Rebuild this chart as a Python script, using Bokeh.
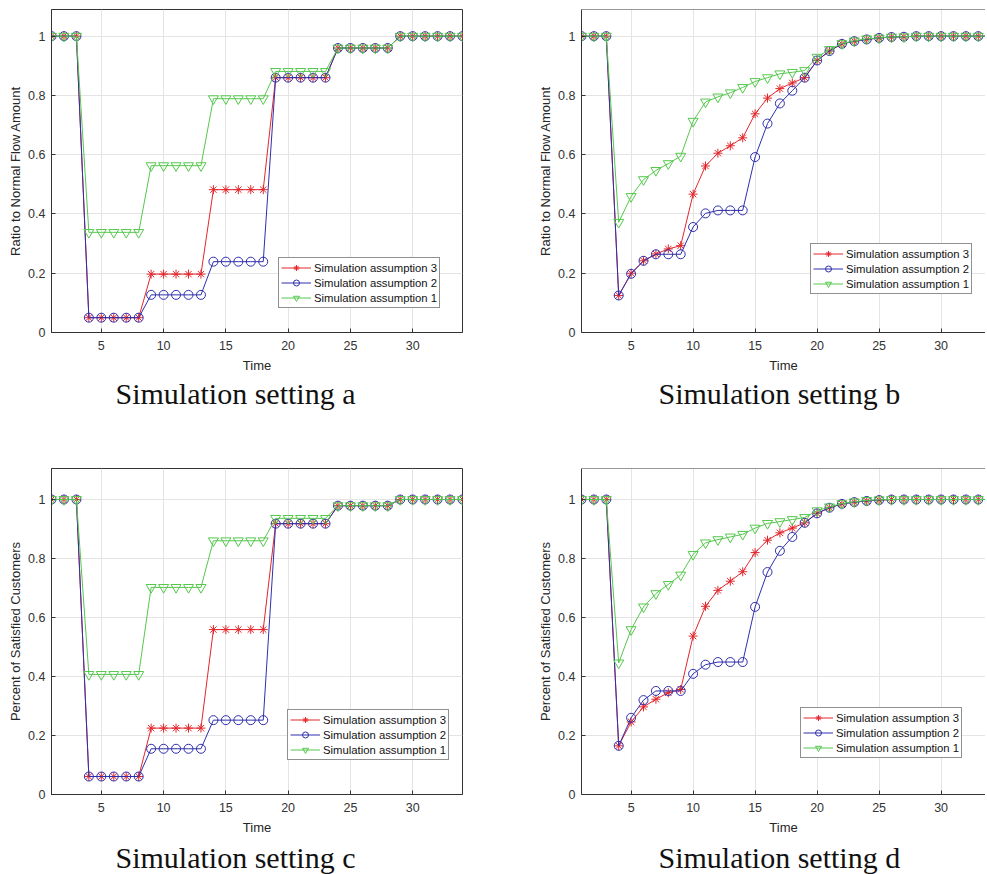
from bokeh.plotting import figure
from bokeh.models import (Range1d, FixedTicker, NumeralTickFormatter,
                          Legend, LegendItem, Title, Span)
from bokeh.layouts import row, column
from bokeh.embed import file_html
from bokeh.resources import INLINE

# ---------------- data ----------------
time = [1, 2, 3, 4, 5, 6, 7, 8, 9, 10, 11, 12, 13, 14, 15, 16, 17,
        18, 19, 20, 21, 22, 23, 24, 25, 26, 27, 28, 29, 30, 31, 32, 33, 34]

series_labels = ["Simulation assumption 3", "Simulation assumption 2", "Simulation assumption 1"]

# Simulation setting a  (Ratio to Normal Flow Amount)
a_s3 = [1, 1, 1, 0.05, 0.05, 0.05, 0.05, 0.05, 0.197, 0.197, 0.197, 0.197, 0.197,
        0.482, 0.482, 0.482, 0.482, 0.482, 0.86, 0.86, 0.86, 0.86, 0.86,
        0.96, 0.96, 0.96, 0.96, 0.96, 1, 1, 1, 1, 1, 1]
a_s2 = [1, 1, 1, 0.05, 0.05, 0.05, 0.05, 0.05, 0.127, 0.127, 0.127, 0.127, 0.127,
        0.239, 0.239, 0.239, 0.239, 0.239, 0.86, 0.86, 0.86, 0.86, 0.86,
        0.96, 0.96, 0.96, 0.96, 0.96, 1, 1, 1, 1, 1, 1]
a_s1 = [1, 1, 1, 0.338, 0.338, 0.338, 0.338, 0.338, 0.563, 0.563, 0.563, 0.563, 0.563,
        0.789, 0.789, 0.789, 0.789, 0.789, 0.881, 0.881, 0.881, 0.881, 0.881,
        0.96, 0.96, 0.96, 0.96, 0.96, 1, 1, 1, 1, 1, 1]

# Simulation setting b  (Ratio to Normal Flow Amount)
b_s3 = [1, 1, 1, 0.125, 0.200, 0.242, 0.265, 0.282, 0.293, 0.467, 0.562, 0.605, 0.630,
        0.657, 0.738, 0.791, 0.823, 0.842, 0.860, 0.918, 0.950, 0.974, 0.983,
        0.989, 0.994, 0.997, 0.998, 1, 1, 1, 1, 1, 1, 1]
b_s2 = [1, 1, 1, 0.125, 0.198, 0.242, 0.264, 0.264, 0.264, 0.356, 0.402, 0.412, 0.412,
        0.412, 0.592, 0.705, 0.773, 0.816, 0.860, 0.918, 0.950, 0.974, 0.983,
        0.989, 0.994, 0.997, 0.998, 1, 1, 1, 1, 1, 1, 1]
b_s1 = [1, 1, 1, 0.372, 0.459, 0.516, 0.547, 0.570, 0.595, 0.713, 0.778, 0.795, 0.809,
        0.827, 0.847, 0.860, 0.873, 0.878, 0.884, 0.929, 0.955, 0.975, 0.984,
        0.991, 0.994, 0.997, 0.998, 1, 1, 1, 1, 1, 1, 1]

# Simulation setting c  (Percent of Satisfied Customers)
c_s3 = [1, 1, 1, 0.061, 0.061, 0.061, 0.061, 0.061, 0.225, 0.225, 0.225, 0.225, 0.225,
        0.559, 0.559, 0.559, 0.559, 0.559, 0.918, 0.918, 0.918, 0.918, 0.918,
        0.979, 0.979, 0.979, 0.979, 0.979, 1, 1, 1, 1, 1, 1]
c_s2 = [1, 1, 1, 0.061, 0.061, 0.061, 0.061, 0.061, 0.155, 0.155, 0.155, 0.155, 0.155,
        0.252, 0.252, 0.252, 0.252, 0.252, 0.918, 0.918, 0.918, 0.918, 0.918,
        0.979, 0.979, 0.979, 0.979, 0.979, 1, 1, 1, 1, 1, 1]
c_s1 = [1, 1, 1, 0.407, 0.407, 0.407, 0.407, 0.407, 0.702, 0.702, 0.702, 0.702, 0.702,
        0.860, 0.860, 0.860, 0.860, 0.860, 0.936, 0.936, 0.936, 0.936, 0.936,
        0.979, 0.979, 0.979, 0.979, 0.979, 1, 1, 1, 1, 1, 1]

# Simulation setting d  (Percent of Satisfied Customers)
d_s3 = [1, 1, 1, 0.165, 0.246, 0.297, 0.323, 0.345, 0.356, 0.537, 0.638, 0.692, 0.723,
        0.755, 0.820, 0.862, 0.887, 0.903, 0.921, 0.953, 0.972, 0.985, 0.991,
        0.995, 0.998, 1, 1, 1, 1, 1, 1, 1, 1, 1]
d_s2 = [1, 1, 1, 0.165, 0.260, 0.320, 0.351, 0.351, 0.351, 0.409, 0.440, 0.449, 0.449,
        0.449, 0.636, 0.754, 0.826, 0.873, 0.921, 0.953, 0.972, 0.985, 0.991,
        0.995, 0.998, 1, 1, 1, 1, 1, 1, 1, 1, 1]
d_s1 = [1, 1, 1, 0.446, 0.559, 0.636, 0.681, 0.712, 0.744, 0.814, 0.853, 0.864, 0.873,
        0.882, 0.903, 0.919, 0.925, 0.932, 0.939, 0.962, 0.975, 0.986, 0.992,
        0.997, 0.999, 1, 1, 1, 1, 1, 1, 1, 1, 1]

x_ticks = [5, 10, 15, 20, 25, 30]
y_ticks = [0, 0.2, 0.4, 0.6, 0.8, 1]

# ---------------- style ----------------
COLORS = ["#e3262b", "#2f2fae", "#55c84c"]
MARKERS = ["asterisk", "circle", "inverted_triangle"]
MSIZES = [9, 9, 10]
AXIS_COL = "#333333"
SANS = "Liberation Sans"
SERIF = "Liberation Serif"


def style_axis(ax):
    ax.axis_line_color = AXIS_COL
    ax.axis_line_width = 1
    ax.major_tick_in = 4
    ax.major_tick_out = 0
    ax.minor_tick_in = 0
    ax.minor_tick_out = 0
    ax.major_tick_line_color = AXIS_COL
    ax.major_label_text_color = AXIS_COL
    ax.major_label_text_font = SANS
    ax.major_label_text_font_size = "12.5px"


def make_panel(ys, ylabel, title, left_side, top_row, leg_loc, title_offset):
    if left_side:
        mb_left, fw, mb_right = 51, 411, 28
        x_end = 34
    else:
        mb_left, fw, mb_right = 91, 404, 0
        x_end = 33.58
    if top_row:
        mb_top, fh, mb_bottom = 9, 323, 128
        y_end = 1.09
        t_stand = -2
    else:
        mb_top, fh, mb_bottom = 8, 326, 70
        y_end = 1.105
        t_stand = 2

    p = figure(frame_width=fw, frame_height=fh,
               min_border_left=mb_left, min_border_right=mb_right,
               min_border_top=mb_top, min_border_bottom=mb_bottom,
               x_range=Range1d(1, x_end), y_range=Range1d(0, y_end),
               output_backend="svg", toolbar_location=None,
               background_fill_color="white", border_fill_color="white")
    if left_side:
        p.outline_line_color = AXIS_COL
        p.outline_line_width = 1
    else:
        p.outline_line_color = None
        p.add_layout(Span(location=y_end, dimension="width",
                          line_color=AXIS_COL, line_width=1))

    # grid
    p.xgrid.ticker = FixedTicker(ticks=x_ticks)
    p.ygrid.ticker = FixedTicker(ticks=y_ticks)
    for g in (p.xgrid[0], p.ygrid[0]):
        g.grid_line_color = "#e4e4e4"
        g.grid_line_width = 1

    # main axes
    xa = p.xaxis[0]
    ya = p.yaxis[0]
    xa.ticker = FixedTicker(ticks=x_ticks)
    ya.ticker = FixedTicker(ticks=y_ticks)
    ya.formatter = NumeralTickFormatter(format="0.[0]")
    style_axis(xa)
    style_axis(ya)
    xa.major_label_standoff = 8
    ya.major_label_standoff = 6
    xa.axis_label = "Time"
    ya.axis_label = ylabel
    for ax in (xa, ya):
        ax.axis_label_text_font = SANS
        ax.axis_label_text_font_style = "normal"
        ax.axis_label_text_font_size = "13px"
        ax.axis_label_text_color = "#262626"
    xa.axis_label_standoff = 5
    ya.axis_label_standoff = 2

    items = []
    for vals, col, mk, ms, lab in zip(ys, COLORS, MARKERS, MSIZES, series_labels):
        lr = p.line(time, vals, line_color=col, line_width=1)
        sr = p.scatter(time, vals, marker=mk, size=ms, line_color=col,
                       fill_color=None, line_width=1)
        items.append(LegendItem(label=lab, renderers=[lr, sr]))

    leg = Legend(items=items, location=leg_loc)
    leg.label_text_font = SANS
    leg.label_text_font_size = "11.3px"
    leg.label_text_color = "#111111"
    leg.label_standoff = 3
    leg.label_height = 15
    leg.glyph_height = 15
    leg.glyph_width = 30
    leg.spacing = 0
    leg.padding = 2
    leg.margin = 0
    leg.border_line_color = "#222222"
    leg.border_line_width = 1
    leg.background_fill_color = "white"
    leg.background_fill_alpha = 1
    p.add_layout(leg, "center")

    t = Title(text=title, align="left", offset=title_offset,
              text_font=SERIF, text_font_size="30px", text_font_style="normal",
              text_color="#111111", standoff=t_stand)
    p.add_layout(t, "below")
    return p


pa = make_panel([a_s3, a_s2, a_s1], "Ratio to Normal Flow Amount",
                "Simulation setting a", True, True, (227, 24), 64)
pb = make_panel([b_s3, b_s2, b_s1], "Ratio to Normal Flow Amount",
                "Simulation setting b", False, True, (229, 38), 77)
pc = make_panel([c_s3, c_s2, c_s1], "Percent of Satisfied Customers",
                "Simulation setting c", True, False, (236, 34), 64)
pd_ = make_panel([d_s3, d_s2, d_s1], "Percent of Satisfied Customers",
                 "Simulation setting d", False, False, (219, 36), 77)

layout = column(row(pa, pb), row(pc, pd_))

open("out.html", "w").write(file_html(layout, INLINE))
